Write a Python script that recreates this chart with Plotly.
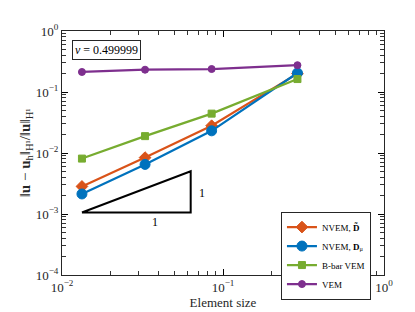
import plotly.graph_objects as go

element_size = [0.0133, 0.0328, 0.085, 0.29]
nvem_dtilde = [0.00283, 0.0084, 0.028, 0.2]
nvem_dmu = [0.00213, 0.0065, 0.0231, 0.205]
bbar_vem = [0.0081, 0.0189, 0.0442, 0.163]
vem = [0.213, 0.232, 0.238, 0.275]

slope_triangle_x = [0.0133, 0.063, 0.063, 0.0133]
slope_triangle_y = [0.00106, 0.00106, 0.00502, 0.00106]

x_tickvals = [0.01, 0.1, 1]
x_ticktext = ["10<sup>−2</sup>", "10<sup>−1</sup>", "10<sup>0</sup>"]
y_tickvals = [1e-4, 1e-3, 1e-2, 1e-1, 1]
y_ticktext = ["10<sup>−4</sup>", "10<sup>−3</sup>", "10<sup>−2</sup>", "10<sup>−1</sup>", "10<sup>0</sup>"]
x_minor_ticks = [m * 10.0 ** e for e in (-2, -1) for m in range(2, 10)]
y_minor_ticks = [m * 10.0 ** e for e in (-4, -3, -2, -1) for m in range(2, 10)]

FONT = "Liberation Serif"
AX = "#262626"
fig = go.Figure()

series = [
    ("NVEM, <b>D̃</b>", nvem_dtilde, "#D95319", "diamond", 9),
    ("NVEM, <b>D</b><sub>μ</sub>", nvem_dmu, "#0072BD", "circle", 10),
    ("B-bar VEM", bbar_vem, "#77AC30", "square", 7),
    ("VEM", vem, "#7E2F8E", "circle", 7),
]
for name, ys, col, sym, sz in series:
    fig.add_trace(go.Scatter(
        x=element_size, y=ys, mode="lines+markers", name=name,
        line=dict(color=col, width=2.2),
        marker=dict(symbol=sym, size=sz, color=col, line=dict(color=col, width=1)),
    ))

fig.add_trace(go.Scatter(
    x=slope_triangle_x, y=slope_triangle_y, mode="lines",
    line=dict(color="black", width=2), showlegend=False, hoverinfo="skip",
))

# invisible trace to anchor the minor-tick overlay axes
fig.add_trace(go.Scatter(
    x=element_size, y=vem, xaxis="x2", yaxis="y2", mode="markers",
    marker=dict(opacity=0), showlegend=False, hoverinfo="skip",
))

axis_common = dict(
    type="log", showgrid=False, zeroline=False, ticks="inside", ticklen=6, tickwidth=1,
    linecolor=AX, linewidth=1, mirror="allticks", showline=True,
    tickcolor="black", tickfont=dict(family=FONT, size=13, color=AX),
)
minor_common = dict(
    type="log", showgrid=False, zeroline=False, ticks="inside", ticklen=4, tickwidth=1,
    showline=False, mirror="allticks", tickcolor="#333333", showticklabels=False,
    tickmode="array",
)

fig.update_layout(
    xaxis=dict(range=[-2, 0], tickvals=x_tickvals, ticktext=x_ticktext,
               title=dict(text="Element size", font=dict(family=FONT, size=13, color=AX), standoff=4),
               **axis_common),
    yaxis=dict(range=[-4, 0], tickvals=y_tickvals, ticktext=y_ticktext,
               title=dict(text="‖<b>u</b> − <b>u</b><sub>h</sub>‖<sub>H¹</sub>/‖<b>u</b>‖<sub>H¹</sub>",
                          font=dict(family=FONT, size=15, color=AX), standoff=1),
               **axis_common),
    xaxis2=dict(range=[-2, 0], tickvals=x_minor_ticks, overlaying="x", anchor="y2", **minor_common),
    yaxis2=dict(range=[-4, 0], tickvals=y_minor_ticks, overlaying="y", anchor="x2", **minor_common),
)

fig.add_annotation(
    xref="paper", yref="paper", x=0.031, y=0.964, xanchor="left", yanchor="top",
    text="<i>ν</i> = 0.499999", showarrow=False,
    font=dict(family=FONT, size=12, color="black"),
    bordercolor=AX, borderwidth=1, borderpad=2, bgcolor="white",
)
fig.add_annotation(x=-1.42, y=-2.98, xref="x", yref="y", text="1", showarrow=False,
                   yanchor="top", font=dict(family=FONT, size=12, color="black"))
fig.add_annotation(x=-1.16, y=-2.66, xref="x", yref="y", text="1", showarrow=False,
                   xanchor="left", font=dict(family=FONT, size=12, color="black"))

fig.update_layout(
    width=415, height=312,
    margin=dict(l=54, r=39, t=23, b=39),
    paper_bgcolor="white", plot_bgcolor="white",
    legend=dict(x=0.68, y=0.26, xanchor="left", yanchor="top",
                bordercolor=AX, borderwidth=1, bgcolor="white",
                font=dict(family=FONT, size=9, color="black"),
                tracegroupgap=0, itemwidth=30),
)

fig.write_html("out.html")
